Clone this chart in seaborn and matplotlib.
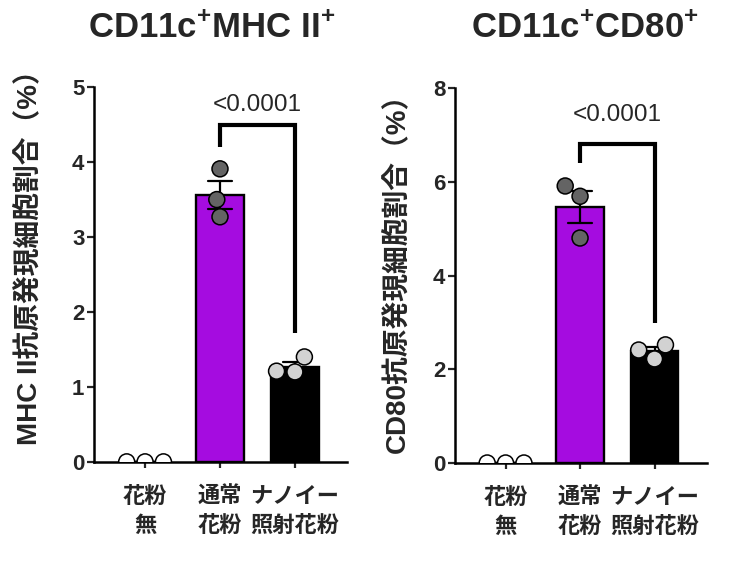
import numpy as np
import matplotlib
matplotlib.use("Agg")
import matplotlib.pyplot as plt
import pandas as pd
import seaborn as sns

groups = ["花粉\n無", "通常\n花粉", "ナノイー\n照射花粉"]
mhc_none = [0.0, 0.0, 0.0]
mhc_normal = [3.91, 3.50, 3.27]
mhc_nanoe = [1.20, 1.40, 1.21]
cd80_none = [0.0, 0.0, 0.0]
cd80_normal = [5.91, 5.69, 4.80]
cd80_nanoe = [2.22, 2.52, 2.41]
p_text = "<0.0001"

sns.set_style("white")
plt.rcParams["font.family"] = ["Liberation Sans", "Noto Sans CJK JP", "DejaVu Sans"]
plt.rcParams["font.weight"] = "bold"
plt.rcParams["mathtext.fontset"] = "custom"
plt.rcParams["mathtext.bf"] = "Liberation Sans:bold"
plt.rcParams["mathtext.rm"] = "Liberation Sans:bold"

bar_colors = ["white", "#A50CE0", "black"]
dot_colors = ["white", "#646464", "#D2D2D2"]


def long_df(a, b, c):
    return pd.DataFrame({
        "group": [groups[0]] * len(a) + [groups[1]] * len(b) + [groups[2]] * len(c),
        "value": list(a) + list(b) + list(c),
    })


fig = plt.figure(figsize=(7.47, 5.66), dpi=100)
ax1 = fig.add_axes([0.126, 0.184, 0.339, 0.662])
ax2 = fig.add_axes([0.609, 0.182, 0.337, 0.6625])


def panel(ax, df, ymax, yticks, ylabel, bracket, ptext_y):
    sns.barplot(data=df, x="group", y="value", hue="group", palette=bar_colors,
                order=groups, hue_order=groups, errorbar="se", capsize=0.33,
                width=0.64, edgecolor="black", linewidth=1.7, legend=False,
                saturation=1, err_kws={"color": "black", "linewidth": 1.6}, ax=ax)
    sns.swarmplot(data=df, x="group", y="value", hue="group", palette=dot_colors,
                  order=groups, hue_order=groups, size=11.5, edgecolor="black",
                  linewidth=1.1, legend=False, ax=ax, zorder=5, warn_thresh=1)
    ax.set_ylim(0, ymax)
    ax.set_xlim(-0.68, 2.7)
    ax.set_yticks(yticks)
    ax.set_ylabel(ylabel, fontsize=20, fontweight="bold")
    ax.set_xlabel("")
    for s in ["top", "right"]:
        ax.spines[s].set_visible(False)
    for s in ["left", "bottom"]:
        ax.spines[s].set_linewidth(1.8)
        ax.spines[s].set_color("black")
    ax.tick_params(axis="y", length=5, width=1.6, labelsize=16, direction="out",
                   left=True, pad=2)
    ax.tick_params(axis="x", length=4, width=1.6, labelsize=16, direction="out",
                   bottom=True, pad=14)
    for t in ax.get_xticklabels():
        t.set_linespacing(1.5)
    for t in ax.get_yticklabels():
        t.set_fontweight("bold")
    top, lleg, rleg = bracket
    ax.plot([1, 1, 2, 2], [lleg, top, top, rleg], color="black", lw=3.0,
            solid_capstyle="butt", solid_joinstyle="miter", clip_on=False)
    ax.text(1.5, ptext_y, p_text, ha="center", va="center", fontsize=17.5,
            fontweight="normal")


panel(ax1, long_df(mhc_none, mhc_normal, mhc_nanoe), 5, [0, 1, 2, 3, 4, 5],
      "MHC II抗原発現細胞割合（%）", (4.49, 4.2, 1.72), 4.76)
panel(ax2, long_df(cd80_none, cd80_normal, cd80_nanoe), 8, [0, 2, 4, 6, 8],
      "CD80抗原発現細胞割合（%）", (6.8, 6.4, 2.98), 7.42)
ax1.yaxis.set_label_coords(-0.205, 0.565)
ax2.yaxis.set_label_coords(-0.18, 0.525)

fig.text(212 / 747, 1 - 29 / 566, r"CD11c$^{\mathbf{+}}$MHC II$^{\mathbf{+}}$",
         ha="center", va="center", fontsize=25, fontweight="bold")
fig.text(585 / 747, 1 - 29 / 566, r"CD11c$^{\mathbf{+}}$CD80$^{\mathbf{+}}$",
         ha="center", va="center", fontsize=25, fontweight="bold")

fig.savefig("out.png", dpi=100)
